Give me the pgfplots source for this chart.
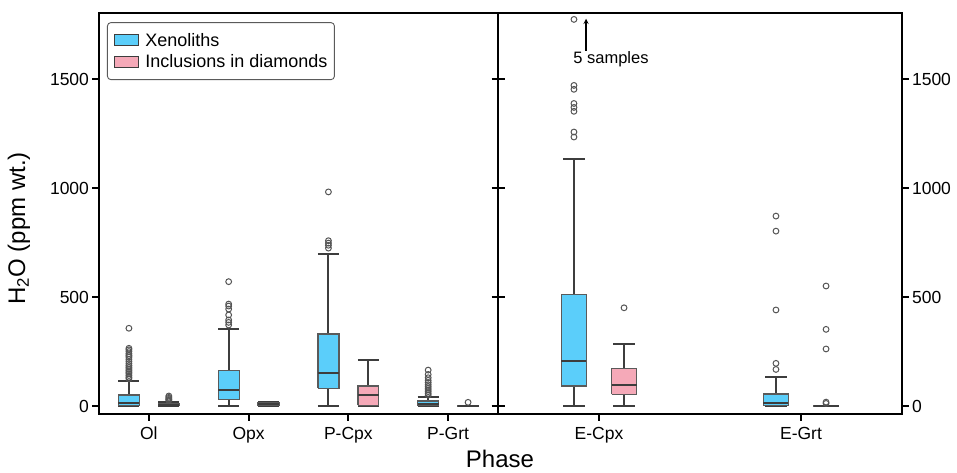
\documentclass[border=0pt]{standalone}
\usepackage{pgfplots}
\pgfplotsset{compat=1.18}
\usepackage{fontspec}
\setmainfont{Liberation Sans}
\definecolor{xen}{HTML}{5BCEFA}
\definecolor{inc}{HTML}{F5A9B8}
\definecolor{wk}{HTML}{3D3D3D}
\definecolor{edge}{HTML}{5A5A5A}
\definecolor{outc}{HTML}{555555}

\pgfplotsset{
  common/.style={
    scale only axis, height=401pt,
    ymin=-38, ymax=1803,
    ytick={0,500,1000,1500},
    tick align=outside,
    xtick pos=bottom,
    major tick length=6.5pt,
    axis line style={line width=1.8pt, black},
    every tick/.style={line width=1.8pt, black},
    tick label style={font=\fontsize{17.5}{20}\selectfont},
    xticklabel style={yshift=-2.5pt},
    /pgf/number format/assume math mode=true,
    /pgf/number format/1000 sep={},
    clip=false,
  },
  outl/.style={forget plot, only marks, mark=o, mark size=2.9pt,
    mark options={draw=outc, fill=white, line width=1pt}},
}
% #1 pos, #2 half box width, #3 half cap width, #4 lower whisker, #5 q1, #6 median, #7 q3, #8 upper whisker, #9 colour
\newcommand\bxp[9]{%
 \pgfmathsetmacro\xa{#1-#2}%
 \pgfmathsetmacro\xb{#1+#2}%
 \pgfmathsetmacro\ca{#1-#3}%
 \pgfmathsetmacro\cb{#1+#3}%
 \edef\tmp{%
  \noexpand\addplot[forget plot, draw=wk, line width=2pt] coordinates {(#1,#4) (#1,#5)};
  \noexpand\addplot[forget plot, draw=wk, line width=2pt] coordinates {(#1,#7) (#1,#8)};
  \noexpand\addplot[forget plot, draw=wk, line width=2pt] coordinates {(\ca,#4) (\cb,#4)};
  \noexpand\addplot[forget plot, draw=wk, line width=2pt] coordinates {(\ca,#8) (\cb,#8)};
  \noexpand\addplot[forget plot, draw=edge, fill=#9, line width=1.3pt, line join=miter] coordinates {(\xa,#5) (\xb,#5) (\xb,#7) (\xa,#7) (\xa,#5)};
  \noexpand\addplot[forget plot, draw=wk, line width=2pt] coordinates {(\xa,#6) (\xb,#6)};
 }\tmp}

\begin{document}
\begin{tikzpicture}
\useasboundingbox (-99pt,-57.7pt) rectangle (858pt,414.3pt);
% ---------------- left panel ----------------
\begin{axis}[common, at={(0pt,0pt)}, anchor=south west, width=399pt,
  xmin=-0.5, xmax=3.5, xtick={0,1,2,3}, xticklabels={Ol,Opx,P-Cpx,P-Grt},
  yticklabel pos=left, ytick pos=both,
  legend cell align=left,
  legend image code/.code={\path (-2pt,0pt) (28pt,0pt);\draw[#1, sharp corners, line width=0.9pt] (0pt,-5.5pt) rectangle (24pt,5.5pt);},
  legend style={at={(0.02,0.978)}, anchor=north west,
    draw=edge, line width=0.9pt, rounded corners=3.5pt,
    font=\fontsize{18}{21}\selectfont, inner xsep=5pt, inner ysep=8.5pt,
    row sep=3pt},
  ]
\addlegendimage{fill=xen, draw=wk}
\addlegendentry{Xenoliths}
\addlegendimage{fill=inc, draw=wk}
\addlegendentry{Inclusions in diamonds}
% Ol
\bxp{-0.2}{0.105}{0.105}{0}{2}{12}{50}{116}{xen}
\addplot[outl] coordinates {(-0.2,125) (-0.2,132) (-0.2,140) (-0.2,148) (-0.2,155) (-0.2,162) (-0.2,170) (-0.2,178) (-0.2,186) (-0.2,195) (-0.2,205) (-0.2,215) (-0.2,225) (-0.2,232) (-0.2,240) (-0.2,250) (-0.2,258) (-0.2,265) (-0.2,357)};
\bxp{0.2}{0.105}{0.105}{0}{1}{4}{10}{20}{inc}
\addplot[outl] coordinates {(0.2,26) (0.2,30) (0.2,35) (0.2,40) (0.2,46)};
% Opx
\bxp{0.8}{0.105}{0.105}{0}{31}{72}{162}{354}{xen}
\addplot[outl] coordinates {(0.8,372) (0.8,384) (0.8,395) (0.8,418) (0.8,445) (0.8,459) (0.8,468) (0.8,571)};
\bxp{1.2}{0.105}{0.105}{0}{2}{8}{14}{18}{inc}
% P-Cpx
\bxp{1.8}{0.105}{0.105}{0}{81}{150}{331}{698}{xen}
\addplot[outl] coordinates {(1.8,725) (1.8,738) (1.8,748) (1.8,759) (1.8,983)};
\bxp{2.2}{0.105}{0.105}{0}{3}{52}{92}{211}{inc}
% P-Grt
\bxp{2.8}{0.105}{0.105}{0}{1}{11}{23}{43}{xen}
\addplot[outl] coordinates {(2.8,50) (2.8,58) (2.8,66) (2.8,74) (2.8,82) (2.8,90) (2.8,98) (2.8,108) (2.8,118) (2.8,130) (2.8,145) (2.8,165)};
\bxp{3.2}{0.105}{0.105}{0}{0}{0.5}{1}{2}{inc}
\addplot[outl] coordinates {(3.2,17)};
\end{axis}
% ---------------- right panel ----------------
\begin{axis}[common, at={(399pt,0pt)}, anchor=south west, width=404pt,
  xmin=-0.5, xmax=1.5, xtick={0,1}, xticklabels={E-Cpx,E-Grt},
  yticklabel pos=right, ytick pos=both,
  ]
% E-Cpx
\bxp{-0.124}{0.062}{0.0535}{0}{92}{208}{513}{1133}{xen}
\addplot[outl] coordinates {(-0.124,1235) (-0.124,1258) (-0.124,1353) (-0.124,1371) (-0.124,1389) (-0.124,1454) (-0.124,1472) (-0.124,1775)};
\bxp{0.124}{0.062}{0.0535}{0}{54}{98}{171}{285}{inc}
\addplot[outl] coordinates {(0.124,451)};
% E-Grt
\bxp{0.876}{0.062}{0.0535}{0}{1}{15}{55}{133}{xen}
\addplot[outl] coordinates {(0.876,168) (0.876,196) (0.876,441) (0.876,803) (0.876,872)};
\bxp{1.124}{0.062}{0.0535}{0}{0}{0.5}{1}{2}{inc}
\addplot[outl] coordinates {(1.124,12) (1.124,18) (1.124,262) (1.124,352) (1.124,551)};
\draw[-stealth, line width=1.3pt] (axis cs:-0.064,1630) -- (axis cs:-0.064,1778);
\node[anchor=west, font=\fontsize{16.5}{19}\selectfont, inner sep=0pt] at (axis cs:-0.128,1592) {5 samples};
\end{axis}
\node[rotate=90, font=\fontsize{24}{28}\selectfont] at (-80pt,186pt) {H\textsubscript{2}O (ppm wt.)};
\node[anchor=base, font=\fontsize{24}{28}\selectfont, inner sep=0pt] at (401pt,-53.5pt) {Phase};
\end{tikzpicture}
\end{document}
